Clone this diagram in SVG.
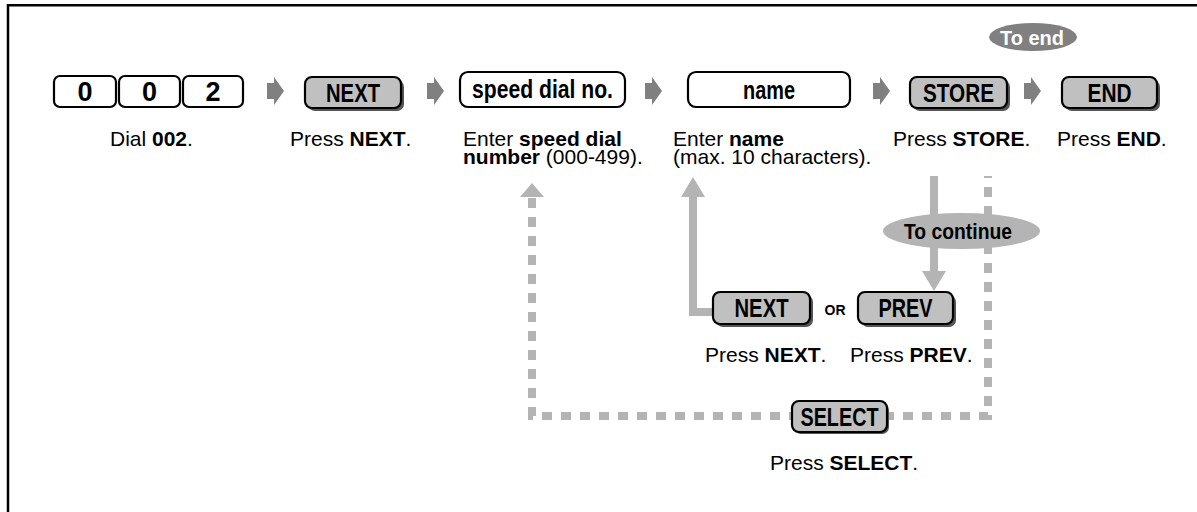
<svg xmlns="http://www.w3.org/2000/svg" xmlns:xlink="http://www.w3.org/1999/xlink" width="1197" height="512" viewBox="0 0 1197 512">
<style>
.key{fill:#fff;stroke:#000;stroke-width:2.2}
.btn{fill:#c0c0c0;stroke:#000;stroke-width:2.2}
.shd{fill:#555}
.lbl{font-family:"Liberation Sans",Arial,sans-serif;font-weight:bold;font-size:26px;text-anchor:middle;fill:#000}
.dig{font-family:"Liberation Sans",Arial,sans-serif;font-weight:bold;font-size:27px;text-anchor:middle;fill:#000}
.txt{font-family:"Liberation Sans",Arial,sans-serif;font-size:21px;fill:#000}
.b{font-weight:bold}
.dash{fill:none;stroke:#b4b4b4;stroke-width:8;stroke-dasharray:10 9}
.solid{fill:none;stroke:#b4b4b4;stroke-width:8}
.head{fill:#b4b4b4}
.blk{fill:#808080}
</style>
<defs>
<path id="arr" d="M0,-8 H7 V-14 L17,0 L7,14 V8 H0 Z"/>
</defs>
<path d="M8,512 V5.2 H1197" fill="none" stroke="#000" stroke-width="2.5"/>

<g id="connectors">
<use xlink:href="#arr" href="#arr" x="267" y="91" class="blk"/>
<use xlink:href="#arr" href="#arr" x="427" y="91" class="blk"/>
<use xlink:href="#arr" href="#arr" x="645" y="91" class="blk"/>
<use xlink:href="#arr" href="#arr" x="873" y="91" class="blk"/>
<use xlink:href="#arr" href="#arr" x="1024" y="91" class="blk"/>
<path class="dash" d="M532,198 V416 H988 V176"/>
<polygon class="head" points="520,197 544,197 532,183"/>
<path class="solid" d="M693,196 V312 H714"/>
<polygon class="head" points="681,197 705,197 693,177"/>
<path class="solid" d="M934,176 V272"/>
<polygon class="head" points="922,271 946,271 934,291"/>
</g>

<g id="key-0a"><rect class="key" x="54" y="76" width="62" height="31" rx="6"/><text class="dig" x="85" y="101">0</text></g>
<g id="key-0b"><rect class="key" x="119" y="76" width="61" height="31" rx="6"/><text class="dig" x="149.5" y="101">0</text></g>
<g id="key-2"><rect class="key" x="183" y="76" width="60" height="31" rx="6"/><text class="dig" x="213" y="101">2</text></g>
<g id="dial-text"><text class="txt" x="110" y="146">Dial <tspan class="b">002</tspan>.</text></g>

<g id="btn-next"><rect class="shd" x="308" y="80" width="96" height="31" rx="7"/><rect class="btn" x="305" y="77" width="96" height="31" rx="7"/><text class="lbl" x="353" y="102" textLength="54" lengthAdjust="spacingAndGlyphs">NEXT</text>
<text class="txt" x="290" y="146">Press <tspan class="b">NEXT</tspan>.</text></g>

<g id="box-speed"><rect class="key" x="460" y="72" width="165" height="35" rx="8"/><text class="lbl" x="542.5" y="98" style="font-size:25px" textLength="141" lengthAdjust="spacingAndGlyphs">speed dial no.</text>
<text class="txt" x="463" y="146">Enter <tspan class="b">speed dial</tspan></text>
<text class="txt" x="463" y="164"><tspan class="b">number</tspan> (000-499).</text></g>

<g id="box-name"><rect class="key" x="688" y="72" width="162" height="35" rx="8"/><text class="lbl" x="769" y="99" style="font-size:25px" textLength="52" lengthAdjust="spacingAndGlyphs">name</text>
<text class="txt" x="673" y="146">Enter <tspan class="b">name</tspan></text>
<text class="txt" x="673" y="164">(max. 10 characters).</text></g>

<g id="btn-store"><rect class="shd" x="913" y="80" width="97" height="31" rx="7"/><rect class="btn" x="910" y="77" width="97" height="31" rx="7"/><text class="lbl" x="958.5" y="102" textLength="71" lengthAdjust="spacingAndGlyphs">STORE</text>
<text class="txt" x="893" y="146">Press <tspan class="b">STORE</tspan>.</text></g>

<g id="to-end"><ellipse cx="1033" cy="37" rx="44" ry="14" fill="#808080"/><text class="lbl" x="1032" y="44.5" style="font-size:21px;fill:#fff" textLength="64" lengthAdjust="spacingAndGlyphs">To end</text></g>

<g id="btn-end"><rect class="shd" x="1065" y="80" width="95" height="31" rx="7"/><rect class="btn" x="1062" y="77" width="95" height="31" rx="7"/><text class="lbl" x="1109.5" y="102" textLength="44" lengthAdjust="spacingAndGlyphs">END</text>
<text class="txt" x="1057" y="146">Press <tspan class="b">END</tspan>.</text></g>

<g id="to-continue"><ellipse cx="961.5" cy="231" rx="78.5" ry="18" fill="#b4b4b4"/><text class="lbl" x="958" y="239" style="font-size:22px" textLength="108" lengthAdjust="spacingAndGlyphs">To continue</text></g>

<g id="btn-next2"><rect class="shd" x="716" y="295" width="97" height="32" rx="7"/><rect class="btn" x="713" y="292" width="97" height="32" rx="7"/><text class="lbl" x="761.5" y="317" textLength="54" lengthAdjust="spacingAndGlyphs">NEXT</text>
<text class="txt" x="705" y="362">Press <tspan class="b">NEXT</tspan>.</text></g>

<g id="or"><text class="lbl" x="835" y="315" style="font-size:14px">OR</text></g>

<g id="btn-prev"><rect class="shd" x="861" y="295" width="95" height="32" rx="7"/><rect class="btn" x="858" y="292" width="95" height="32" rx="7"/><text class="lbl" x="905.5" y="317" textLength="54" lengthAdjust="spacingAndGlyphs">PREV</text>
<text class="txt" x="850" y="362">Press <tspan class="b">PREV</tspan>.</text></g>

<g id="btn-select"><rect class="shd" x="794" y="403" width="95" height="31" rx="7"/><rect class="btn" x="792" y="401" width="95" height="31" rx="7"/><text class="lbl" x="839.5" y="426" textLength="78" lengthAdjust="spacingAndGlyphs">SELECT</text>
<text class="txt" x="770" y="470">Press <tspan class="b">SELECT</tspan>.</text></g>
</svg>
